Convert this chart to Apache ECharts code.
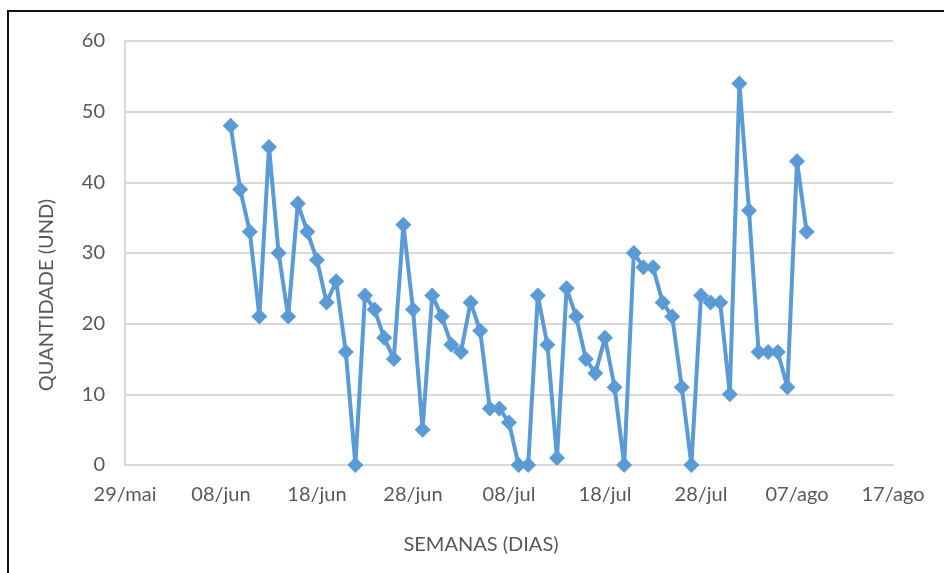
<!DOCTYPE html>
<html lang="pt">
<head>
<meta charset="UTF-8">
<title>Quantidade por dia</title>
<script src="https://cdn.jsdelivr.net/npm/echarts@6/dist/echarts.min.js"></script>
<style>
  html, body { margin: 0; padding: 0; background: #fff; }
  #chart { width: 944px; height: 573px; }
</style>
</head>
<body>
<div id="chart"></div>
<script>
// rótulos do eixo x (a cada 10 dias a partir de 29/mai)
var tickLabels = ['29/mai', '08/jun', '18/jun', '28/jun', '08/jul', '18/jul', '28/jul', '07/ago', '17/ago'];
// primeiro dia com dado: 09/jun = 11 dias após 29/mai, depois um ponto por dia
var firstDay = 11;
var quantidade = [48, 39, 33, 21, 45, 30, 21, 37, 33, 29,
                  23, 26, 16, 0, 24, 22, 18, 15, 34, 22,
                  5, 24, 21, 17, 16, 23, 19, 8, 8, 6,
                  0, 0, 24, 17, 1, 25, 21, 15, 13, 18,
                  11, 0, 30, 28, 28, 23, 21, 11, 0, 24,
                  23, 23, 10, 54, 36, 16, 16, 16, 11, 43, 33];

var pontos = quantidade.map(function (v, i) { return [firstDay + i, v]; });

var fonte = 'Lato, "Open Sans", sans-serif';
var cinza = '#595959';
var grade = '#d9d9d9';

var chart = echarts.init(document.getElementById('chart'));
chart.setOption({
  animation: false,
  textStyle: { fontFamily: fonte },
  grid: { left: 125, right: 51, top: 41, bottom: 108 },
  xAxis: {
    type: 'value',
    min: 0, max: 80, interval: 10,
    axisLine: { show: true, lineStyle: { color: grade, width: 2 } },
    axisTick: { show: false },
    splitLine: { show: false },
    axisLabel: {
      color: cinza, fontSize: 20, fontFamily: fonte, margin: 20,
      formatter: function (v) { return tickLabels[Math.round(v / 10)]; }
    }
  },
  yAxis: {
    type: 'value',
    min: 0, max: 60, interval: 10,
    axisLine: { show: true, lineStyle: { color: grade, width: 2 } },
    axisTick: { show: false },
    splitLine: { show: true, lineStyle: { color: grade, width: 2 } },
    axisLabel: { color: cinza, fontSize: 20, fontFamily: fonte, margin: 20 }
  },
  graphic: [
    {
      type: 'rect', silent: true,
      shape: { x: 8, y: 11, width: 960, height: 600 },
      style: { fill: 'none', stroke: '#111', lineWidth: 2 }
    },
    {
      type: 'text', x: 47, y: 295, rotation: Math.PI / 2,
      style: { text: 'QUANTIDADE (UND)', fill: cinza, font: '20px ' + fonte, align: 'center', verticalAlign: 'middle' }
    },
    {
      type: 'text', x: 481, y: 545,
      style: { text: 'SEMANAS (DIAS)', fill: cinza, font: '20px ' + fonte, align: 'center', verticalAlign: 'middle' }
    }
  ],
  series: [{
    type: 'line',
    data: pontos,
    symbol: 'diamond',
    symbolSize: 16,
    lineStyle: { color: '#5b9bd5', width: 4 },
    itemStyle: { color: '#5b9bd5' }
  }]
});
</script>
</body>
</html>
